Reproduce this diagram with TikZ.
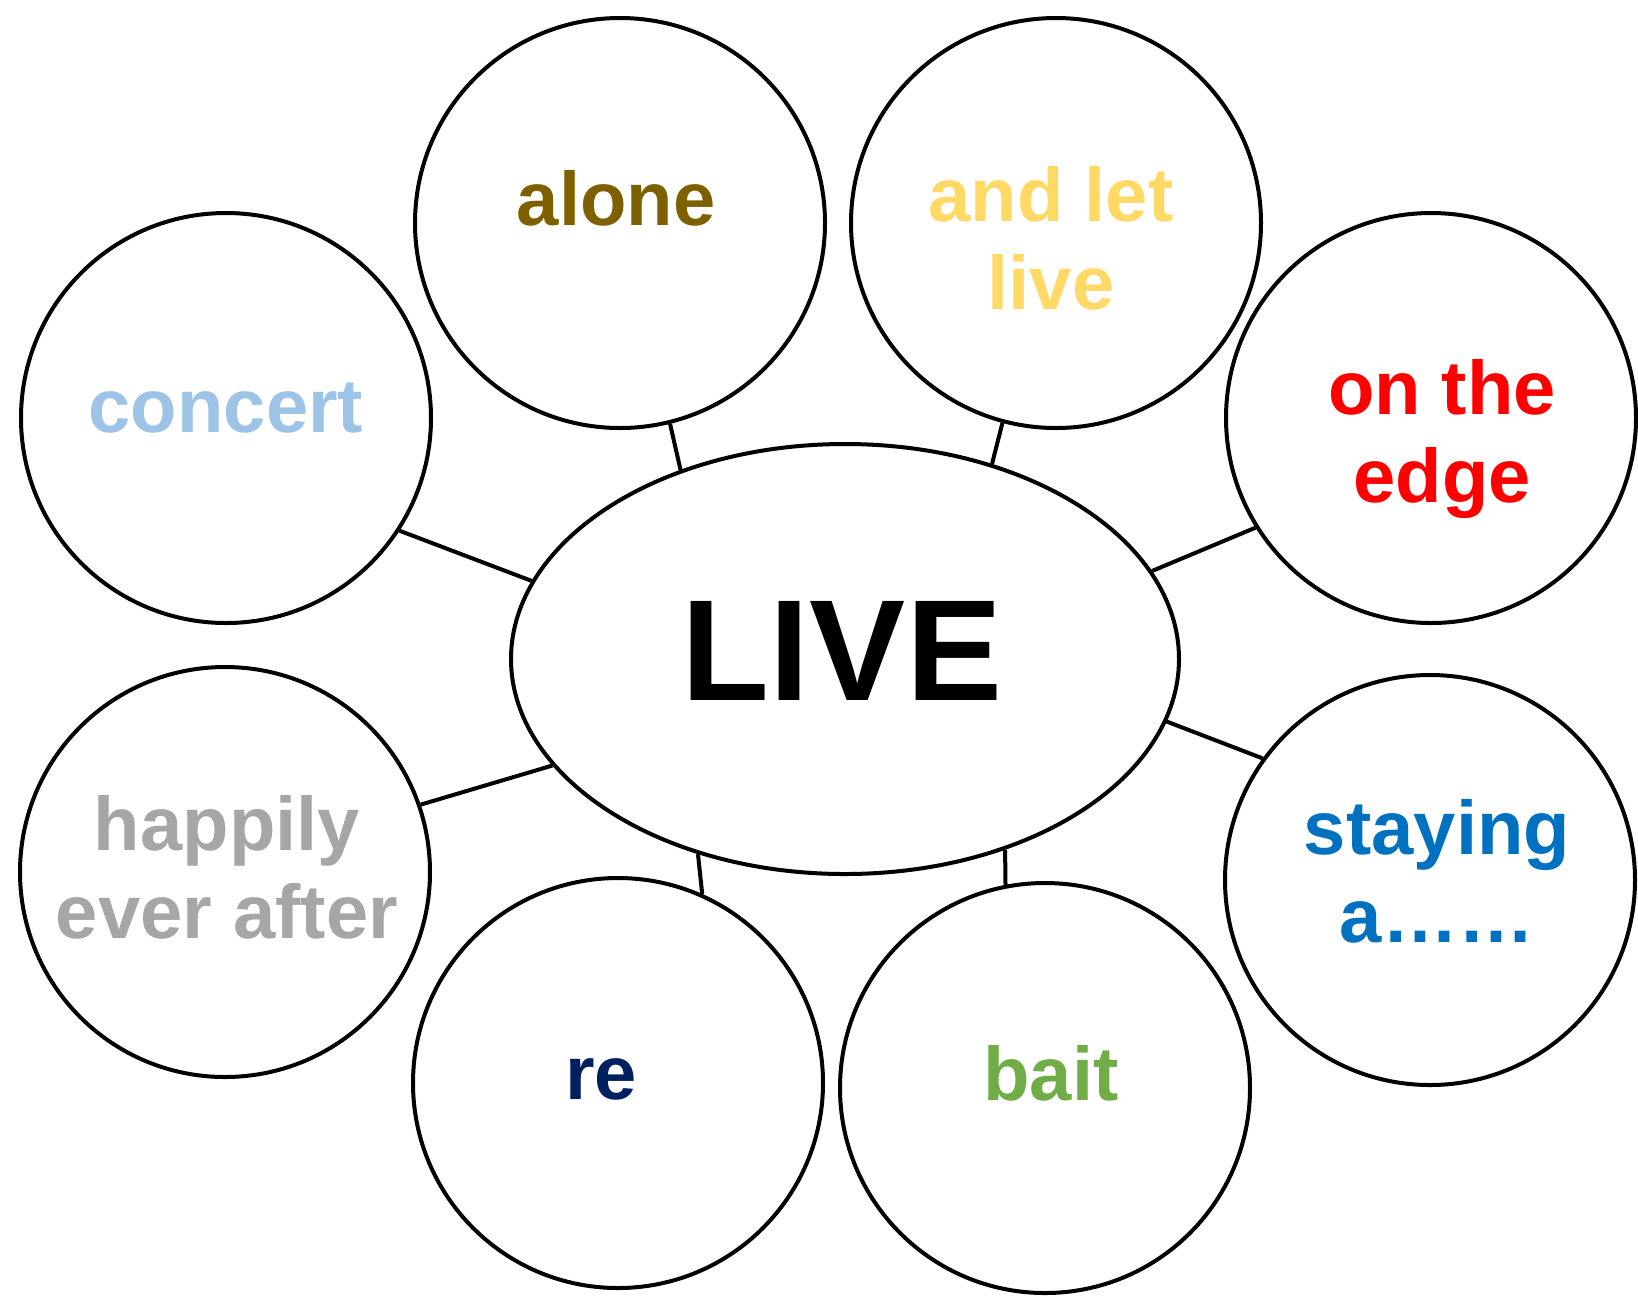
\documentclass[tikz,border=0pt]{standalone}
\usepackage{fontspec}
\setmainfont{Liberation Sans}
\usetikzlibrary{shapes.geometric}
\definecolor{cAlone}{HTML}{7F6000}
\definecolor{cLet}{HTML}{FFD966}
\definecolor{cConcert}{HTML}{9DC3E6}
\definecolor{cEdge}{HTML}{FF0000}
\definecolor{cHappy}{HTML}{A6A6A6}
\definecolor{cStay}{HTML}{0070C0}
\definecolor{cRe}{HTML}{002060}
\definecolor{cBait}{HTML}{70AD47}
\tikzset{
  bubble/.style={circle, draw=black, line width=2pt, minimum size=205pt, inner sep=0pt},
  hub/.style={ellipse, draw=black, line width=2pt, minimum width=334pt, minimum height=215pt, inner sep=0pt},
  word/.style={font=\fontsize{38}{44}\selectfont\bfseries, inner sep=0pt, anchor=base, align=center},
  bigword/.style={font=\fontsize{72}{80}\selectfont\bfseries, inner sep=0pt, anchor=base},
  link/.style={draw=black, line width=2pt}
}
\begin{document}
\begin{tikzpicture}[x=0.5pt, y=-0.5pt]
\useasboundingbox (0,0) rectangle (1638,1298);
\fill[white] (0,0) rectangle (1638,1298);
% circles
\node[bubble] (alone) at (620,223) {};
\node[bubble] (letlive) at (1056,223) {};
\node[bubble] (concert) at (226,418) {};
\node[bubble] (edge) at (1431,418) {};
\node[bubble] (happily) at (225,872) {};
\node[bubble] (staying) at (1430,880) {};
\node[bubble] (re) at (618,1083) {};
\node[bubble] (bait) at (1045,1088) {};
% centre
\node[hub] (live) at (845,659) {};
% connectors
\draw[link] (alone.284) -- (live.131);
\draw[link] (letlive.255.7) -- (live.53.2);
\draw[link] (concert.327) -- (live.166.1);
\draw[link] (edge.212) -- (live.16.7);
\draw[link] (happily.19.7) -- (live.200.8);
\draw[link] (staying.144.8) -- (live.349.4);
\draw[link] (re.66.4) -- (live.233.6);
\draw[link] (bait.101.9) -- (live.310.0);
% texts
\node[bigword] (tlive) at (842,700) {LIVE};
\node[word, text=cAlone] (talone) at (616,225) {alone};
\node[word, text=cLet] (tlet) at (1051,309) {and let\\live};
\node[word, text=cConcert] (tconcert) at (226,432) {concert};
\node[word, text=cEdge] (tedge) at (1442,502) {on the\\edge};
\node[word, text=cHappy] (thappy) at (227,938) {happily\\ever after};
\node[word, text=cStay] (tstay) at (1437,942) {staying\\a……};
\node[word, text=cRe] (tre) at (601,1099) {re};
\node[word, text=cBait] (tbait) at (1051,1100) {bait};
\end{tikzpicture}
\end{document}
